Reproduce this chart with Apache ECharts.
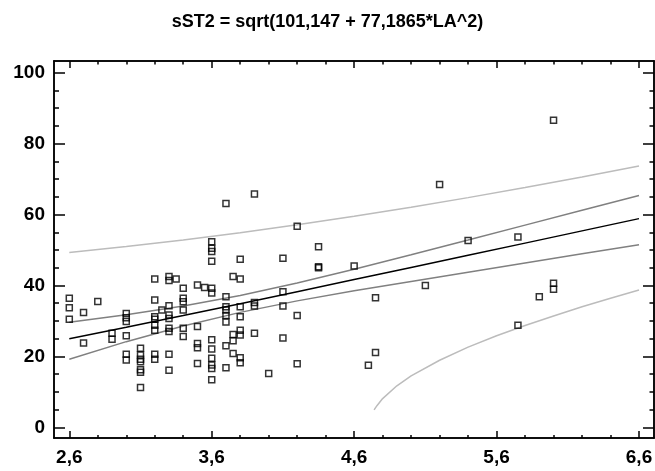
<!DOCTYPE html>
<html>
<head>
<meta charset="utf-8">
<script src="https://cdn.jsdelivr.net/npm/echarts@6/dist/echarts.min.js"></script>
<style>
  html, body { margin: 0; padding: 0; background: #fff; }
  #chart { width: 655px; height: 471px; }
</style>
</head>
<body>
<div id="chart"></div>
<script>
  const chartTitle = 'sST2 = sqrt(101,147 + 77,1865*LA^2)';

  // observed points (LA, sST2)
  const laValues = [
    2.6, 2.6, 2.6,
    2.7, 2.7,
    2.8,
    2.9, 2.9,
    3.0, 3.0, 3.0, 3.0, 3.0, 3.0,
    3.1, 3.1, 3.1, 3.1, 3.1, 3.1, 3.1,
    3.2, 3.2, 3.2, 3.2, 3.2, 3.2, 3.2, 3.2,
    3.25,
    3.3, 3.3, 3.3, 3.3, 3.3, 3.3, 3.3, 3.3, 3.3,
    3.35,
    3.4, 3.4, 3.4, 3.4, 3.4, 3.4,
    3.5, 3.5, 3.5, 3.5, 3.5,
    3.55,
    3.6, 3.6, 3.6, 3.6, 3.6, 3.6, 3.6, 3.6, 3.6, 3.6, 3.6, 3.6,
    3.7, 3.7, 3.7, 3.7, 3.7, 3.7, 3.7, 3.7,
    3.75, 3.75, 3.75, 3.75,
    3.8, 3.8, 3.8, 3.8, 3.8, 3.8, 3.8, 3.8,
    3.9, 3.9, 3.9, 3.9,
    4.0,
    4.1, 4.1, 4.1, 4.1,
    4.2, 4.2, 4.2,
    4.35, 4.35, 4.35,
    4.6,
    4.7,
    4.75, 4.75,
    5.1,
    5.2,
    5.4,
    5.75, 5.75,
    5.9,
    6.0, 6.0, 6.0
  ];
  const sst2Values = [
    36.4, 33.7, 30.5,
    32.4, 23.8,
    35.5,
    26.5, 24.8,
    32.1, 30.9, 29.8, 25.8, 20.6, 19.0,
    22.3, 20.4, 19.2, 18.5, 16.2, 15.5, 11.2,
    41.8, 35.9, 31.2, 30.5, 28.8, 27.4, 20.6, 19.2,
    33.1,
    42.5, 41.4, 34.3, 31.7, 30.7, 27.9, 27.0, 20.6, 16.1,
    41.8,
    39.2, 36.4, 35.4, 33.1, 27.9, 25.6,
    40.1, 28.4, 23.6, 22.4, 18.0,
    39.4,
    52.3, 50.5, 49.6, 46.8, 39.2, 37.9, 24.7, 22.1, 19.5, 17.6, 16.6, 13.4,
    63.1, 36.8, 34.0, 33.1, 31.5, 29.7, 23.0, 16.8,
    42.5, 26.2, 24.4, 20.8,
    47.4, 41.8, 34.0, 31.2, 27.4, 26.0, 19.6, 18.2,
    65.8, 35.2, 34.2, 26.5,
    15.2,
    47.7, 38.2, 34.2, 25.2,
    56.7, 31.5, 17.9,
    50.9, 45.3, 45.0,
    45.5,
    17.5,
    36.5, 21.1,
    40.0,
    68.5,
    52.7,
    53.7, 28.8,
    36.8,
    86.6, 40.6, 38.9
  ];

  // fitted model and limits
  const curveLA    = [2.6, 3.0, 3.4, 3.8, 4.2, 4.6, 5.0, 5.4, 5.8, 6.2, 6.6];
  const fitLine    = [24.96, 28.21, 31.52, 34.87, 38.25, 41.65, 45.06, 48.50, 51.94, 55.39, 58.85];
  const confUpper  = [29.63, 31.76, 34.22, 37.16, 40.67, 44.58, 48.67, 52.83, 57.01, 61.19, 65.37];
  const confLower  = [19.18, 24.15, 28.56, 32.41, 35.65, 38.49, 41.14, 43.74, 46.32, 48.91, 51.51];
  const predUpper  = [49.31, 50.97, 52.84, 54.89, 57.12, 59.52, 62.07, 64.77, 67.61, 70.58, 73.68];
  const predLowLA  = [4.74, 4.76, 4.8, 4.9, 5.0, 5.2, 5.4, 5.6, 5.8, 6.0, 6.2, 6.4, 6.6];
  const predLower  = [4.9, 6.1, 8.1, 11.7, 14.5, 18.9, 22.6, 25.8, 28.7, 31.4, 34.0, 36.4, 38.7];

  // tick labels
  const xTicks = [2.6, 3.6, 4.6, 5.6, 6.6];
  const xMinorTicks = [2.8, 3.0, 3.2, 3.4, 3.8, 4.0, 4.2, 4.4, 4.8, 5.0, 5.2, 5.4, 5.8, 6.0, 6.2, 6.4];
  const yTicks = [0, 20, 40, 60, 80, 100];
  const yMinorTicks = [5, 10, 15, 25, 30, 35, 45, 50, 55, 65, 70, 75, 85, 90, 95];

  const X_MIN = 2.4926, X_MAX = 6.7053;
  const Y_MIN = -3.02, Y_MAX = 103.3;
  const FONT = '"Liberation Sans", Arial, sans-serif';

  const zip = (xs, ys) => xs.map((x, i) => [x, ys[i]]);

  function axis(dim, position, ticks, tickLen, withLabels) {
    const isX = dim === 'x';
    return {
      type: 'value',
      position: position,
      min: isX ? X_MIN : Y_MIN,
      max: isX ? X_MAX : Y_MAX,
      splitLine: { show: false },
      axisLine: { show: true, onZero: false, lineStyle: { color: '#000', width: 1.5 } },
      axisTick: {
        show: true, inside: true, length: tickLen, customValues: ticks,
        lineStyle: { color: '#000', width: 1.5 }
      },
      axisLabel: {
        show: withLabels, customValues: ticks,
        margin: isX ? 10 : 9,
        color: '#000', fontSize: 19, fontWeight: 'bold', fontFamily: FONT,
        formatter: v => isX ? v.toFixed(1).replace('.', ',') : String(v)
      }
    };
  }

  let chart = echarts.init(document.getElementById('chart'));
  let option = {
    animation: false,
    backgroundColor: '#fff',
    title: {
      text: chartTitle,
      left: 'center',
      top: 8,
      textStyle: { color: '#000', fontSize: 18, fontWeight: 'bold', fontFamily: FONT }
    },
    grid: { left: 54, right: 1, top: 61, bottom: 33, containLabel: false, outerBoundsMode: 'none' },
    xAxis: [
      axis('x', 'bottom', xTicks, 7, true),
      axis('x', 'bottom', xMinorTicks, 3, false),
      axis('x', 'top', xTicks, 7, false),
      axis('x', 'top', xMinorTicks, 3.5, false)
    ],
    yAxis: [
      axis('y', 'left', yTicks, 11, true),
      axis('y', 'left', yMinorTicks, 5, false),
      axis('y', 'right', yTicks, 11, false),
      axis('y', 'right', yMinorTicks, 4.5, false)
    ],
    series: [
      {
        name: 'pred upper', type: 'line', data: zip(curveLA, predUpper),
        showSymbol: false, lineStyle: { color: '#bcbcbc', width: 1.5 }
      },
      {
        name: 'pred lower', type: 'line', data: zip(predLowLA, predLower),
        showSymbol: false, lineStyle: { color: '#bcbcbc', width: 1.5 }
      },
      {
        name: 'conf upper', type: 'line', data: zip(curveLA, confUpper),
        showSymbol: false, lineStyle: { color: '#808080', width: 1.5 }
      },
      {
        name: 'conf lower', type: 'line', data: zip(curveLA, confLower),
        showSymbol: false, lineStyle: { color: '#808080', width: 1.5 }
      },
      {
        name: 'fit', type: 'line', data: zip(curveLA, fitLine),
        showSymbol: false, lineStyle: { color: '#000', width: 1.5 }
      },
      {
        name: 'sST2', type: 'scatter', data: zip(laValues, sst2Values),
        symbol: 'rect', symbolSize: 6, z: 5,
        itemStyle: { color: 'rgba(0,0,0,0)', borderColor: '#000', borderWidth: 1.5 }
      }
    ]
  };
  chart.setOption(option);
</script>
</body>
</html>
